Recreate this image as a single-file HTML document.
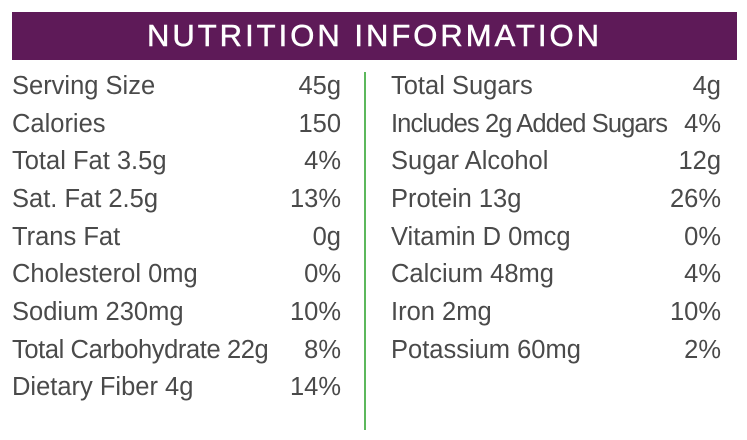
<!DOCTYPE html>
<html><head><meta charset="utf-8"><style>
body{margin:0;width:747px;height:440px;background:#fff;position:relative;overflow:hidden;font-family:"Liberation Sans",sans-serif;color:#4a4a4a}
.band{position:absolute;left:12px;top:12px;width:725px;height:48px;background:#5e1a58;color:#fff;font-size:31px;letter-spacing:3px;text-align:center;line-height:48px;-webkit-text-stroke:0.5px #fff}
.div{position:absolute;left:364px;top:72px;width:2px;height:358px;background:#5cb85c}
.r{position:absolute;font-size:25.5px;line-height:30px;white-space:nowrap}
.l{left:12px}.lv{right:406px;text-align:right}.m{left:391px}.mv{right:26px;text-align:right}
</style></head><body>
<div class="band">NUTRITION INFORMATION</div>
<div class="div"></div>
<div class="r l" style="top:71px">Serving Size</div><div class="r lv" style="top:71px">45g</div>
<div class="r l" style="top:109px">Calories</div><div class="r lv" style="top:109px">150</div>
<div class="r l" style="top:146px">Total Fat 3.5g</div><div class="r lv" style="top:146px">4%</div>
<div class="r l" style="top:184px">Sat. Fat 2.5g</div><div class="r lv" style="top:184px">13%</div>
<div class="r l" style="top:222px">Trans Fat</div><div class="r lv" style="top:222px">0g</div>
<div class="r l" style="top:259px">Cholesterol 0mg</div><div class="r lv" style="top:259px">0%</div>
<div class="r l" style="top:297px">Sodium 230mg</div><div class="r lv" style="top:297px">10%</div>
<div class="r l" style="top:335px;letter-spacing:-0.4px">Total Carbohydrate 22g</div><div class="r lv" style="top:335px">8%</div>
<div class="r l" style="top:372px">Dietary Fiber 4g</div><div class="r lv" style="top:372px">14%</div>
<div class="r m" style="top:71px">Total Sugars</div><div class="r mv" style="top:71px">4g</div>
<div class="r m" style="top:109px;letter-spacing:-0.9px">Includes 2g Added Sugars</div><div class="r mv" style="top:109px">4%</div>
<div class="r m" style="top:146px">Sugar Alcohol</div><div class="r mv" style="top:146px">12g</div>
<div class="r m" style="top:184px">Protein 13g</div><div class="r mv" style="top:184px">26%</div>
<div class="r m" style="top:222px">Vitamin D 0mcg</div><div class="r mv" style="top:222px">0%</div>
<div class="r m" style="top:259px">Calcium 48mg</div><div class="r mv" style="top:259px">4%</div>
<div class="r m" style="top:297px">Iron 2mg</div><div class="r mv" style="top:297px">10%</div>
<div class="r m" style="top:335px">Potassium 60mg</div><div class="r mv" style="top:335px">2%</div>
</body></html>
